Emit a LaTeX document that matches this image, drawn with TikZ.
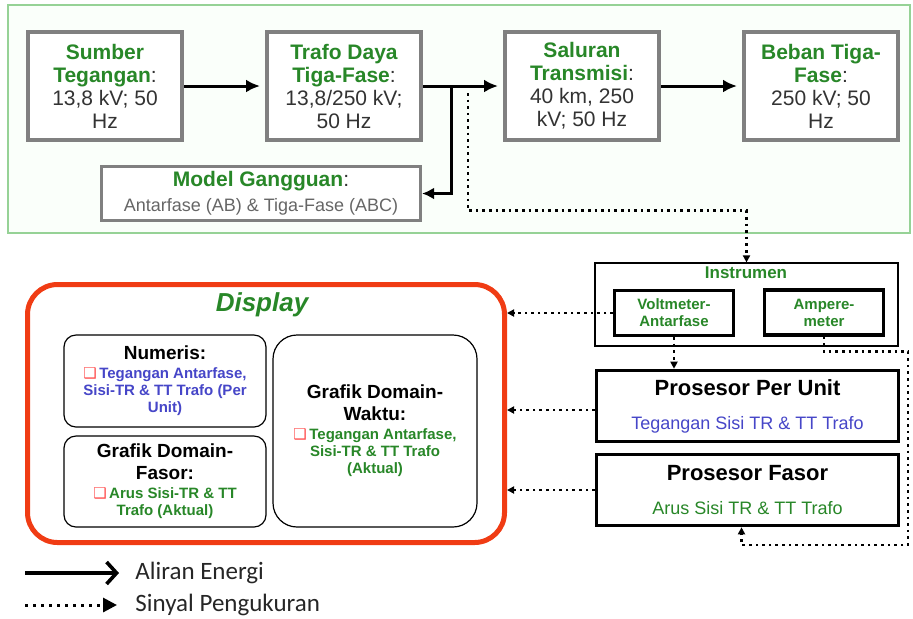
\documentclass[tikz,border=0pt]{standalone}
\usepackage{fontspec}
\setmainfont{Liberation Sans}
\newfontfamily\legfont{Carlito}
\newfontfamily\symfont{DejaVu Sans}
\usetikzlibrary{arrows.meta,calc,positioning}
\definecolor{grn}{RGB}{40,135,40}
\definecolor{blu}{RGB}{70,70,200}
\definecolor{frm}{RGB}{150,210,150}
\definecolor{dsp}{RGB}{240,60,20}
\newcommand{\hd}[1]{\textcolor{grn}{\bfseries #1}}
\newcommand{\bx}{{\symfont\color{red!70}\fontsize{7.5}{7.5}\selectfont ❑}\,}

\tikzset{
  pwrbox/.style={draw=black!50,line width=2pt,fill=white,minimum width=77pt,
    minimum height=54pt,align=center,inner sep=1pt,text=black!80,
    font=\fontsize{10.5}{11.5}\selectfont},
  insbox/.style={draw=black,line width=1.6pt,fill=white,minimum width=59.5pt,
    minimum height=22.5pt,align=center,inner sep=1pt,text=grn,
    font=\fontsize{7.5}{8.5}\selectfont\bfseries},
  procbox/.style={draw=black,line width=1.8pt,fill=white,minimum width=151pt,
    minimum height=35.5pt,align=center,inner sep=1pt,
    font=\fontsize{9}{10}\selectfont},
  viewbox/.style={draw=black,line width=0.6pt,fill=white,rounded corners=6pt,
    minimum width=101pt,align=center,inner sep=1pt,
    font=\fontsize{7.5}{8.5}\selectfont\bfseries},
  energy/.style={line width=1.5pt,-{Latex[length=7pt,width=6.5pt]}},
  sig/.style={line width=1.3pt,dotted,-{Triangle[length=3.5pt,width=3.5pt]}},
}

\begin{document}
\begin{tikzpicture}[x=0.5pt,y=-0.5pt]
  \useasboundingbox (0,0) rectangle (913,618);
  % sistem daya
  \draw[frm,line width=0.8pt,fill=green!2] (8,5) rectangle (910,233);
  \node[pwrbox] (src) at (105,86) {\hd{Sumber}\\\hd{Tegangan}:\\13,8 kV; 50\\Hz};
  \node[pwrbox] (trafo) at (344,86) {\hd{Trafo Daya}\\\hd{Tiga-Fase}:\\13,8/250 kV;\\50 Hz};
  \node[pwrbox] (saluran) at (582,86) {\hd{Saluran}\\\hd{Transmisi}:\\40 km, 250\\kV; 50 Hz};
  \node[pwrbox] (beban) at (821,86) {\hd{Beban Tiga-}\\\hd{Fase}:\\250 kV; 50\\Hz};
  \node[pwrbox,line width=1.6pt,minimum width=159.5pt,minimum height=27pt] (model) at (261,193.5)
    {\hd{Model Gangguan}:\\[1pt]{\color{black!60}\fontsize{9}{10}\selectfont Antarfase (AB) \& Tiga-Fase (ABC)}};
  \coordinate (tap) at ($(trafo.east)!0.36!(saluran.west)$);
  \coordinate (meas) at ($(trafo.east)!0.56!(saluran.west)+(0,7)$);
  \draw[energy,shorten >=2.5pt] (src) -- (trafo);
  \draw[energy,shorten >=2.5pt] (trafo) -- (saluran);
  \draw[energy,shorten >=2.5pt] (saluran) -- (beban);
  \draw[energy,-{Latex[length=6pt,width=6pt]}] (tap) |- (model.east);

  % instrumen dan prosesor
  \node[draw=black,line width=0.6pt,minimum width=151.5pt,minimum height=41.5pt] (instr) at (746.5,304.5) {};
  \node[text=grn,font=\fontsize{8.5}{9}\selectfont\bfseries] (instrlbl) at (746,273) {Instrumen};
  \node[insbox] (volt) at (674,313) {Voltmeter-\\Antarfase};
  \node[insbox] (amp) at (824,312.5) {Ampere-\\meter};
  \node[procbox] (ppu) at (747.5,406)
    {{\fontsize{11}{12}\selectfont\bfseries Prosesor Per Unit}\\[7pt]\textcolor{blu}{Tegangan Sisi TR \& TT Trafo}};
  \node[procbox] (pf) at (747.5,490)
    {{\fontsize{11}{12}\selectfont\bfseries Prosesor Fasor}\\[7pt]\textcolor{grn}{Arus Sisi TR \& TT Trafo}};
  \draw[sig] (meas) |- ($(instr.north)+(0,-52)$) -- (instr.north);
  \draw[sig] (volt.south) -- (volt.south |- ppu.north);
  \draw[sig] (amp.south) -- ++(0,15) -| (908,545) -| ([xshift=-3pt]pf.south);

  % display
  \node[draw=dsp,line width=2.5pt,rounded corners=15pt,minimum width=238.5pt,minimum height=129pt] (disp) at (266,413.5) {};
  \node[text=grn,font=\fontsize{13}{14}\selectfont\bfseries\itshape] (disptitle) at (262,305) {Display};
  \node[viewbox,minimum height=46pt] (numeris) at (165,381)
    {{\fontsize{9.5}{11}\selectfont Numeris:}\\[1pt]
     \color{blu}\bx Tegangan Antarfase,\\\color{blu}Sisi-TR \& TT Trafo (Per\\\color{blu}Unit)};
  \node[viewbox,minimum height=45.5pt] (fasor) at (165,481.5)
    {{\fontsize{9.5}{11}\selectfont Grafik Domain-}\\[2.5pt]{\fontsize{9.5}{11}\selectfont Fasor:}\\[1pt]
     \color{grn}\bx Arus Sisi-TR \& TT\\\color{grn}Trafo (Aktual)};
  \node[viewbox,rounded corners=12pt,minimum width=102pt,minimum height=96pt] (waktu) at (375,431)
    {{\fontsize{9.5}{11}\selectfont Grafik Domain-}\\[2.5pt]{\fontsize{9.5}{11}\selectfont Waktu:}\\[1pt]
     \color{grn}\bx Tegangan Antarfase,\\\color{grn}Sisi-TR \& TT Trafo\\\color{grn}(Aktual)};
  \draw[sig] (volt.west) -- (volt.west -| disp.east);
  \draw[sig] ([yshift=-2pt]ppu.west) -- ([yshift=-2pt]ppu.west -| disp.east);
  \draw[sig] (pf.west) -- (pf.west -| disp.east);

  % legenda
  \node[anchor=west,inner sep=0pt,text=black!85,font=\legfont\fontsize{12.5}{13}\selectfont] (legE) at (135,573) {Aliran Energi};
  \node[anchor=west,inner sep=0pt,text=black!85,font=\legfont\fontsize{12.5}{13}\selectfont] (legS) at (135,605) {Sinyal Pengukuran};
  \coordinate (e0) at (25,573);
  \coordinate (s0) at (25,605);
  \draw[line width=1.8pt,-{Straight Barb[length=5pt,width=11pt]}] (e0) -- ([xshift=-8pt]legE.west);
  \draw[line width=1.5pt,dash pattern=on 1.5pt off 2.5pt,-{Triangle[length=7pt,width=7pt]}] (s0) -- ([xshift=-9pt]legS.west);
\end{tikzpicture}
\end{document}
